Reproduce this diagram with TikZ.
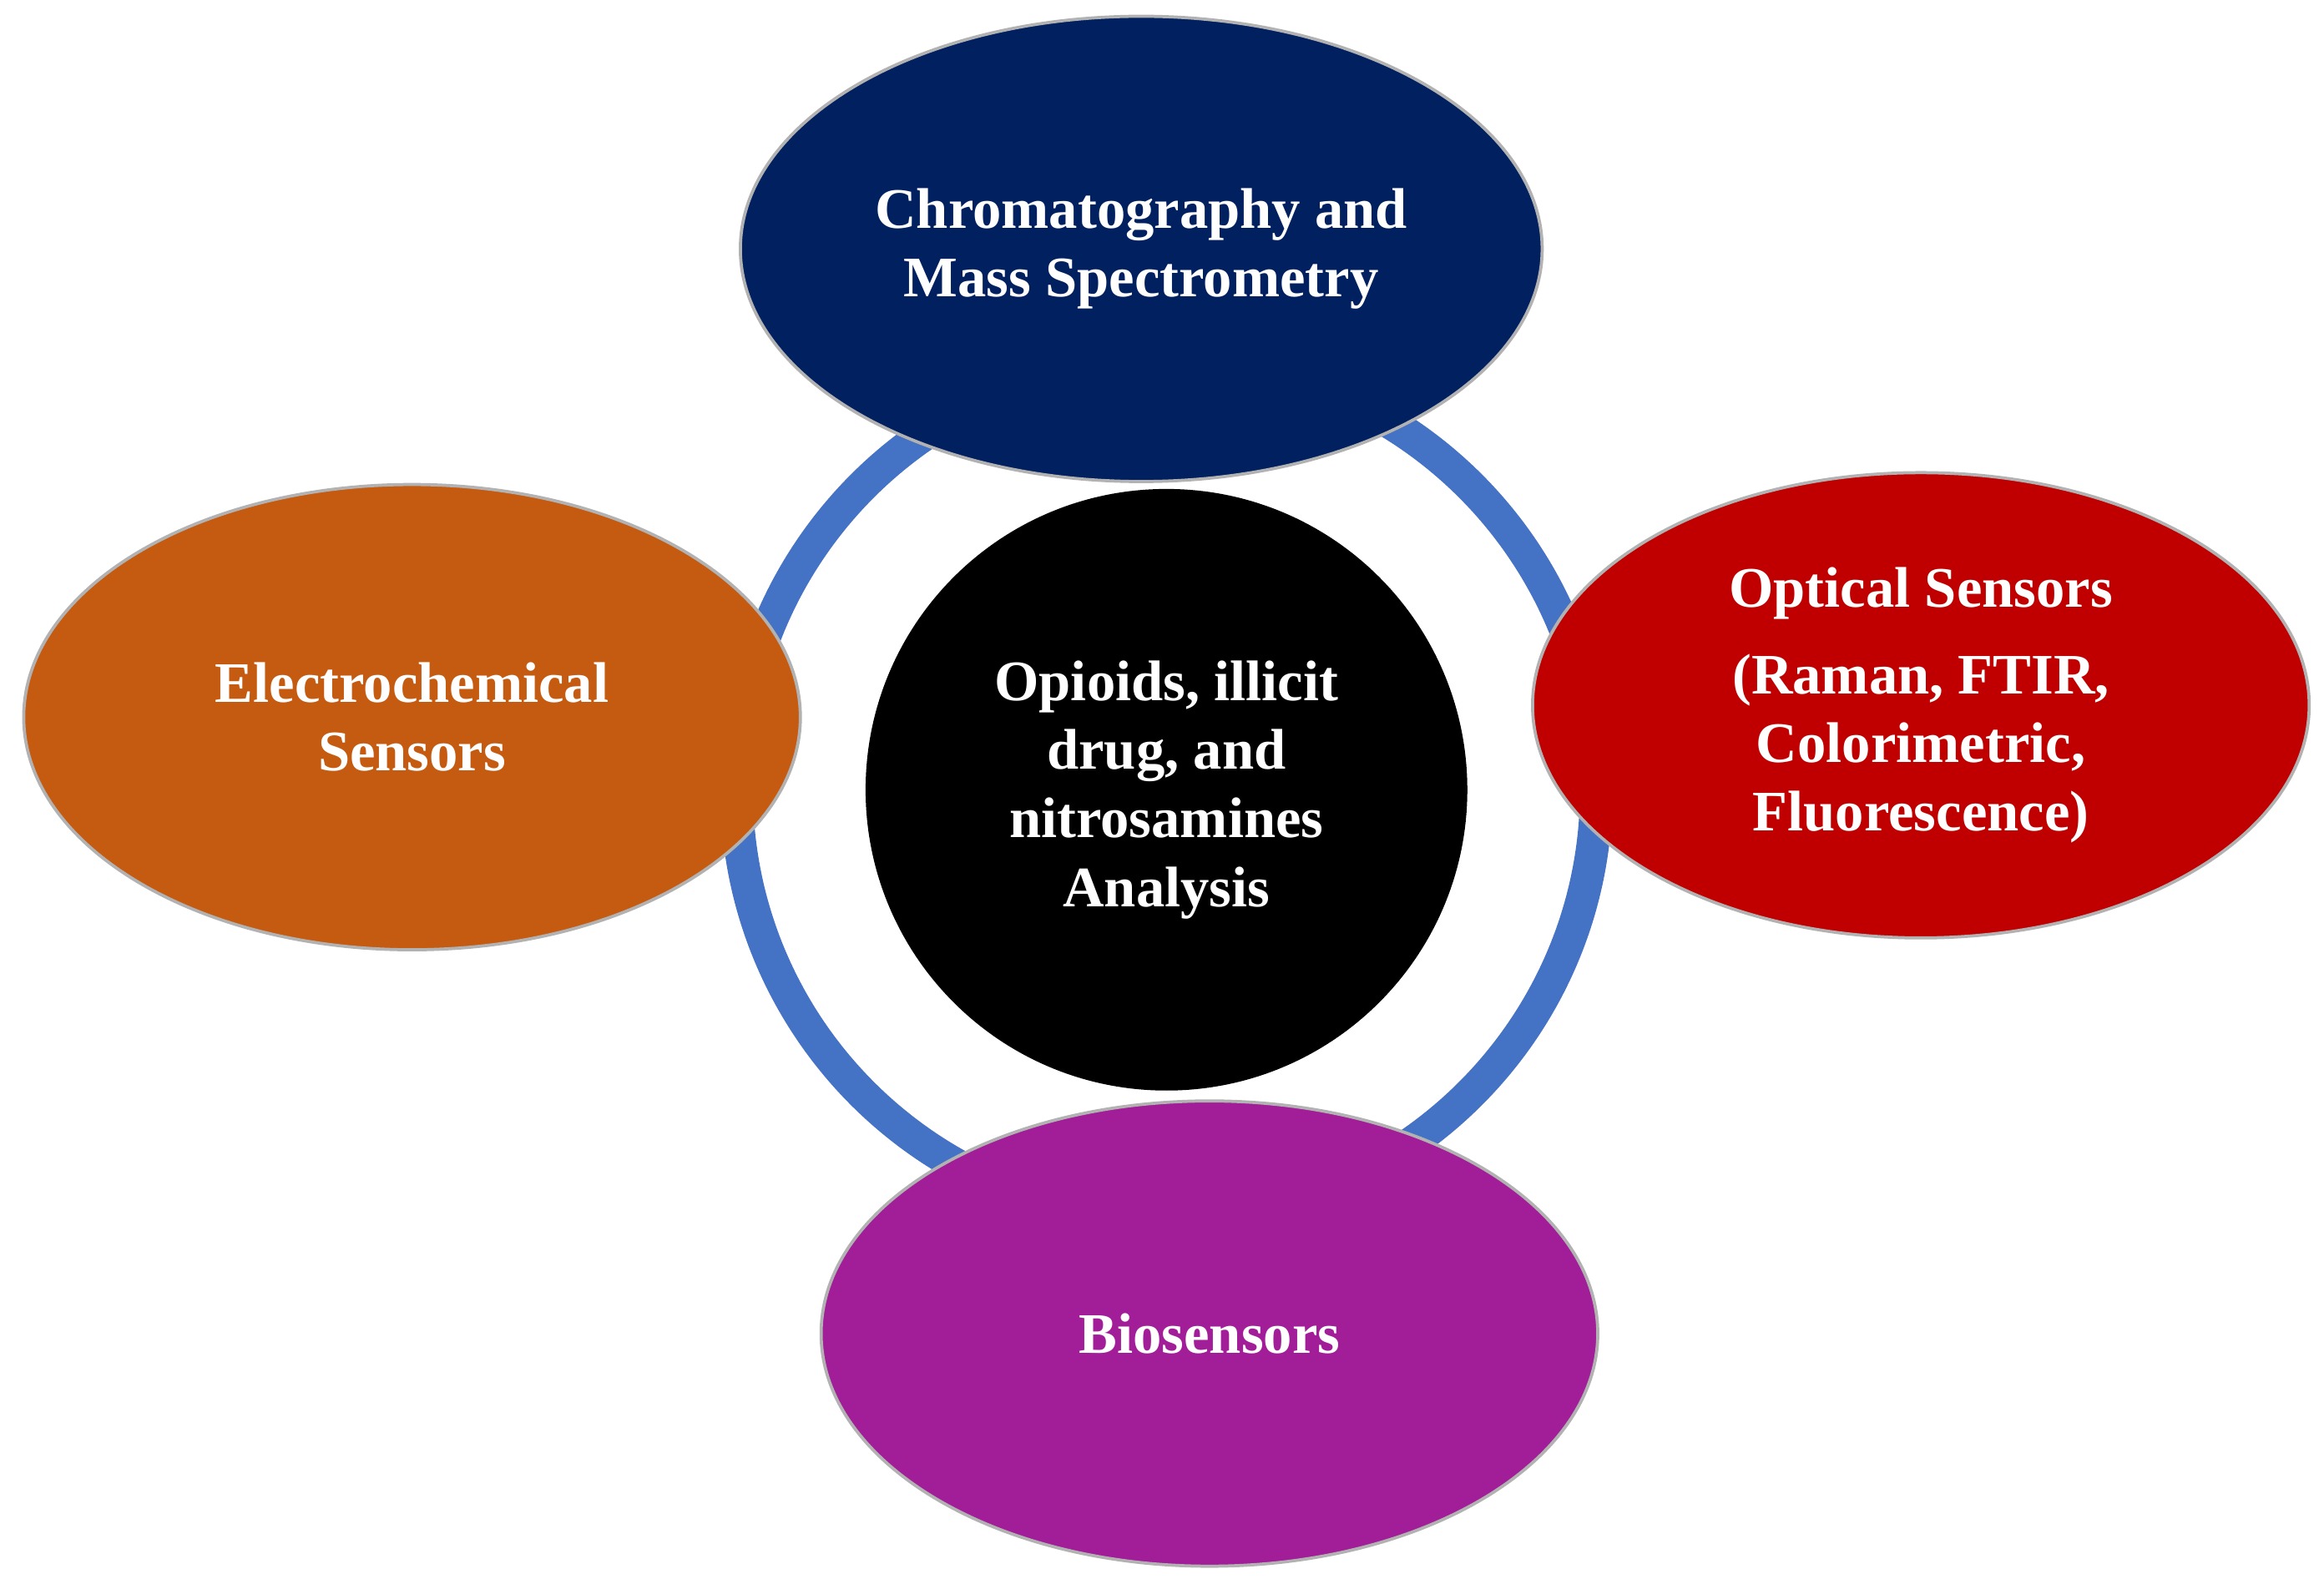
\documentclass[tikz,border=0pt]{standalone}
\usepackage{fontspec}
\setmainfont{Liberation Serif}
\usetikzlibrary{shapes.geometric}
\definecolor{navy}{HTML}{002060}
\definecolor{rust}{HTML}{C55A11}
\definecolor{crimson}{HTML}{C00000}
\definecolor{plum}{HTML}{A21D98}
\definecolor{ringblue}{HTML}{4472C4}
\tikzset{
  topic/.style = {ellipse, draw=gray!60, line width=0.6pt, minimum width=5.24cm,
                  minimum height=3.14cm, text=white, align=center,
                  font=\fontsize{11}{13.2}\selectfont\bfseries},
}
\begin{document}
\begin{tikzpicture}[x=1cm,y=1cm]
  \useasboundingbox (0,0) rectangle (15.68,10.72);
  % ring
  \draw[ringblue, line width=0.22cm] (7.87,5.39) circle (2.90);
  % centre
  \node[circle, fill=black, minimum size=4.06cm, text=white, align=center,
        font=\fontsize{11}{13.2}\selectfont\bfseries] (core) at (7.87,5.39)
        {Opioids, illicit\\drug, and\\nitrosamines\\Analysis};
  \node[topic, fill=navy] (chrom) at (7.70,9.04) {Chromatography and\\Mass Spectrometry};
  \node[topic, fill=rust] (elec) at (2.78,5.88) {Electrochemical\\Sensors};
  \node[topic, fill=crimson] (opt) at (12.96,5.96)
        {Optical Sensors\\[0.12cm](Raman, FTIR,\\Colorimetric,\\Fluorescence)};
  \node[topic, fill=plum] (bio) at (8.16,1.72) {Biosensors};
\end{tikzpicture}
\end{document}
